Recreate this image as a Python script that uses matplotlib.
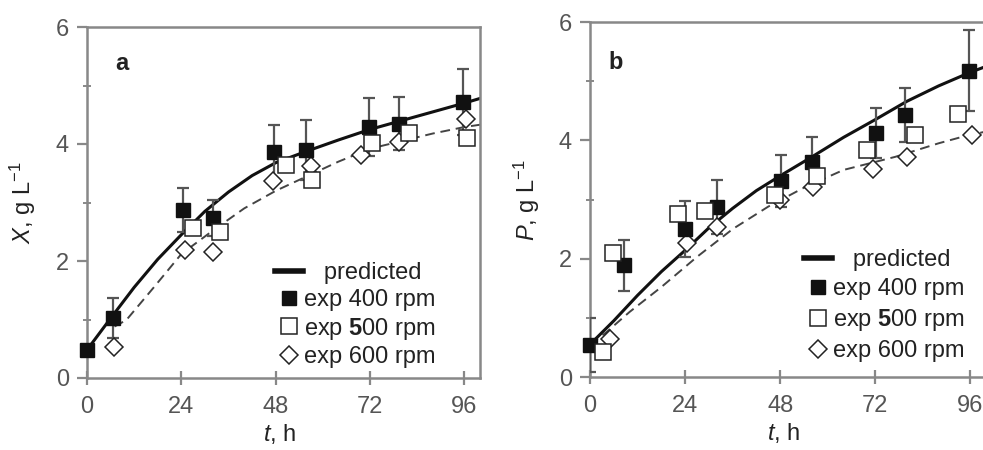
import matplotlib
matplotlib.use("Agg")
import matplotlib.pyplot as plt
from matplotlib.ticker import MultipleLocator

plt.rcParams['font.family'] = ['Liberation Sans', 'DejaVu Sans']
plt.rcParams['mathtext.fontset'] = 'custom'
plt.rcParams['mathtext.rm'] = 'Liberation Sans'
plt.rcParams['mathtext.it'] = 'Liberation Sans:italic'
plt.rcParams['mathtext.bf'] = 'Liberation Sans:bold'

# ---- panel a : biomass X ----
a_t400 = [0, 6.6, 24.4, 32, 47.5, 55.6, 71.8, 79.3, 95.5]
a_x400 = [0.48, 1.02, 2.87, 2.73, 3.87, 3.90, 4.29, 4.35, 4.72]
a_e400 = [0, 0.34, 0.38, 0.31, 0.46, 0.51, 0.50, 0.46, 0.56]
a_t500 = [27, 33.8, 50.7, 57.3, 72.5, 82, 96.6]
a_x500 = [2.57, 2.49, 3.64, 3.38, 4.02, 4.18, 4.11]
a_t600 = [6.8, 24.9, 32.1, 47.3, 57.0, 69.7, 79.4, 96.4]
a_x600 = [0.53, 2.19, 2.15, 3.36, 3.63, 3.81, 4.04, 4.42]
a_tpred = [0, 6, 12, 18, 24, 30, 36, 42, 48, 56, 64, 72, 80, 88, 96, 100]
a_xpred = [0.48, 1.02, 1.55, 2.03, 2.45, 2.85, 3.18, 3.46, 3.68, 3.88, 4.07, 4.25, 4.40, 4.55, 4.70, 4.78]
a_tdash = [7, 10, 17, 24, 32, 40, 48, 56, 64, 72, 80, 88, 96, 100]
a_xdash = [0.88, 0.99, 1.55, 2.12, 2.52, 2.9, 3.2, 3.45, 3.70, 3.92, 4.05, 4.18, 4.29, 4.33]

# ---- panel b : product P ----
b_t400 = [0, 8.6, 24, 32.1, 48.2, 56, 72.2, 79.5, 95.7]
b_p400 = [0.54, 1.89, 2.50, 2.87, 3.31, 3.63, 4.12, 4.43, 5.18]
b_e400 = [0.46, 0.43, 0.47, 0.46, 0.44, 0.42, 0.42, 0.45, 0.68]
b_t500 = [3.3, 5.9, 22.3, 29, 46.8, 57.3, 70, 82, 92.9]
b_p500 = [0.43, 2.09, 2.76, 2.81, 3.08, 3.39, 3.83, 4.09, 4.45]
b_t600 = [5.1, 24.5, 32, 48, 56.2, 71.5, 80, 96.5]
b_p600 = [0.65, 2.26, 2.54, 2.99, 3.21, 3.52, 3.72, 4.09]
b_tpred = [0, 6, 12, 18, 24, 30, 36, 42, 48, 56, 64, 72, 80, 88, 96, 100]
b_ppred = [0.55, 0.95, 1.38, 1.78, 2.14, 2.52, 2.85, 3.15, 3.40, 3.72, 4.05, 4.35, 4.66, 4.92, 5.15, 5.25]
b_tdash = [0, 4, 10, 18, 27, 36, 45, 54, 64, 77, 88, 94, 100]
b_pdash = [0.55, 0.75, 1.1, 1.52, 2.03, 2.5, 2.88, 3.2, 3.5, 3.72, 3.95, 4.06, 4.15]

xticks = [0, 24, 48, 72, 96]

fig = plt.figure(figsize=(9.83, 4.5), dpi=100)
axa = fig.add_axes([0.0885, 0.16, 0.4, 0.78])
axb = fig.add_axes([0.6002, 0.1622, 0.403, 0.7889])


def draw(ax, t4, y4, e4, t5, y5, t6, y6, tp, yp, td, yd):
    ax.plot(tp, yp, '-', color='#111111', lw=2.2, zorder=2)
    ax.plot(td, yd, '--', color='#444444', lw=1.4, dashes=(5, 3), zorder=2)
    ax.errorbar(t4, y4, yerr=e4, fmt='none', ecolor='#555555', elinewidth=1.6,
                capsize=4, capthick=1.6, zorder=3)
    ax.plot(t6, y6, 'D', ms=9, mfc='white', mec='#222222', mew=1.1, ls='none',
            zorder=4, clip_on=False)
    ax.plot(t4, y4, 's', ms=10.5, mfc='#111111', mec='#111111', ls='none',
            zorder=5, clip_on=False)
    ax.plot(t5, y5, 's', ms=11, mfc='white', mec='#222222', mew=1.1, ls='none',
            zorder=6, clip_on=False)
    ax.set_xlim(0, 100)
    ax.set_ylim(0, 6)
    ax.set_xticks(xticks)
    ax.yaxis.set_major_locator(MultipleLocator(2))
    ax.yaxis.set_minor_locator(MultipleLocator(1))
    for s in ax.spines.values():
        s.set_color('#888888')
        s.set_linewidth(1.8)
    ax.tick_params(axis='both', which='major', labelsize=17, colors='#888888',
                   labelcolor='#555555', width=1.6)
    ax.tick_params(axis='x', which='major', direction='inout', length=10, pad=8)
    ax.tick_params(axis='y', which='major', direction='out', length=7, pad=6)
    ax.tick_params(axis='y', which='minor', direction='inout', length=6,
                   width=1.4, colors='#888888')

    ax.plot([], [], '-', color='#111111', lw=4, label='   predicted')
    ax.plot([], [], 's', ms=10, color='#111111', label='exp 400 rpm')
    ax.plot([], [], 's', ms=11, mfc='white', mec='#222222', mew=1.1,
            label=r'exp $\mathbf{5}$00 rpm')
    ax.plot([], [], 'D', ms=9, mfc='white', mec='#222222', mew=1.1,
            label='exp 600 rpm')


draw(axa, a_t400, a_x400, a_e400, a_t500, a_x500, a_t600, a_x600,
     a_tpred, a_xpred, a_tdash, a_xdash)
draw(axb, b_t400, b_p400, b_e400, b_t500, b_p500, b_t600, b_p600,
     b_tpred, b_ppred, b_tdash, b_pdash)

axa.set_ylabel(r'$X$, g L$^{-1}$', fontsize=17, color='#222222')
axb.set_ylabel(r'$P$, g L$^{-1}$', fontsize=17, color='#222222')
axa.yaxis.set_label_coords(-0.125, 0.5)
axb.yaxis.set_label_coords(-0.12, 0.5)
for ax in (axa, axb):
    ax.set_xlabel(r'$t$, h', fontsize=17, color='#222222')
    ax.xaxis.set_label_coords(0.49, -0.125)

axa.text(0.089, 0.895, 'a', transform=axa.transAxes, fontsize=17,
         fontweight='bold', color='#222222', ha='center', va='center')
axb.text(0.066, 0.885, 'b', transform=axb.transAxes, fontsize=17,
         fontweight='bold', color='#222222', ha='center', va='center')

for ax, x0, y0, sp in ((axa, 0.478, 0.33, 0.2), (axb, 0.54, 0.36, 0.3)):
    ax.legend(loc='upper left', bbox_to_anchor=(x0, y0), frameon=False,
              fontsize=17, handlelength=1.2, handletextpad=0.05,
              labelspacing=sp, borderpad=0, borderaxespad=0,
              labelcolor='#222222')

fig.savefig('out.png', dpi=100, facecolor='white')
